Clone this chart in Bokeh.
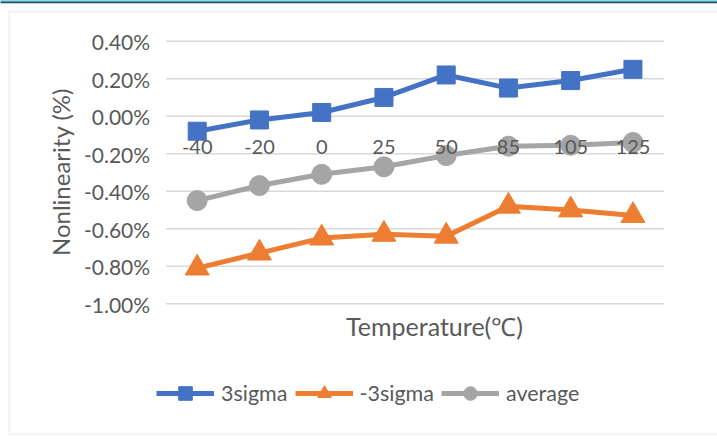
import math
from bokeh.plotting import figure
from bokeh.models import Range1d, Legend, LegendItem, Label, BoxAnnotation
from bokeh.embed import file_html
from bokeh.resources import INLINE

# ---- data ----
temperatures = ["-40", "-20", "0", "25", "50", "85", "105", "125"]
sigma_plus = [-0.08, -0.02, 0.02, 0.10, 0.22, 0.15, 0.19, 0.25]
sigma_minus = [-0.81, -0.73, -0.65, -0.63, -0.64, -0.48, -0.50, -0.53]
average = [-0.45, -0.37, -0.31, -0.27, -0.21, -0.16, -0.155, -0.14]
y_ticks = [-1.0, -0.8, -0.6, -0.4, -0.2, 0.0, 0.2, 0.4]
y_tick_labels = ["-1.00%", "-0.80%", "-0.60%", "-0.40%", "-0.20%", "0.00%", "0.20%", "0.40%"]

FONT = "Lato"
TXT = "#595959"
BLUE, ORANGE, GREY = "#4472C4", "#ED7D31", "#A5A5A5"

W, H = 717, 440
# layout: pixel geometry of the plot area inside the canvas
CAT_X0, CAT_STEP = 196.7, 62.25          # centre of first category, category spacing (px)
Y_TOP_PX, Y_BOT_PX = 40.7, 303.2          # pixel rows of the 0.40% and -1.00% grid lines
PX_PER_UNIT_Y = (Y_BOT_PX - Y_TOP_PX) / (y_ticks[-1] - y_ticks[0])

def px_x(px):
    return (px - CAT_X0) / CAT_STEP

def px_y(py):
    return y_ticks[-1] - (py - Y_TOP_PX) / PX_PER_UNIT_Y

xs = list(range(len(temperatures)))

p = figure(width=W, height=H, output_backend="svg", toolbar_location=None,
           title_location=None,
           x_range=Range1d(px_x(0), px_x(W)), y_range=Range1d(px_y(H), px_y(0)),
           x_axis_location=None, y_axis_location=None, min_border=0)
p.outline_line_color = None
p.background_fill_color = "white"
p.border_fill_color = "white"
p.xgrid.visible = False
p.ygrid.visible = False

# outer frame + top accent line
p.add_layout(BoxAnnotation(left=px_x(8.7), right=px_x(W + 20), top=px_y(11), bottom=px_y(433.5),
                           fill_alpha=0, line_color="#D9D9D9", line_width=2.5))
p.add_layout(BoxAnnotation(left=px_x(-5), right=px_x(W + 5), top=px_y(-1), bottom=px_y(1.4),
                           fill_color="#3AA6BC", fill_alpha=1, line_alpha=0))
p.add_layout(BoxAnnotation(left=px_x(-5), right=px_x(W + 5), top=px_y(1.4), bottom=px_y(2.8),
                           fill_color="#2B4C5C", fill_alpha=1, line_alpha=0))

# horizontal grid lines over the category band
p.segment(x0=-0.5, x1=len(temperatures) - 0.5, y0=y_ticks, y1=y_ticks,
          line_color="#D9D9D9", line_width=1.5)

# y tick labels
p.text(x=-0.5, y=y_ticks, text=y_tick_labels, x_offset=-16, y_offset=0.5,
       text_align="right", text_baseline="middle", text_font={"value": FONT},
       text_font_size="21px", text_color=TXT)

# series
l1 = p.line(xs, sigma_plus, line_color=BLUE, line_width=5)
m1 = p.scatter(xs, sigma_plus, marker="square", size=18, color=BLUE)
l2 = p.line(xs, sigma_minus, line_color=ORANGE, line_width=5)
m2 = p.scatter(xs, sigma_minus, marker="triangle", size=24, color=ORANGE)
l3 = p.line(xs, average, line_color=GREY, line_width=5)
m3 = p.scatter(xs, average, marker="circle", size=20, color=GREY)

# category labels on the axis crossing at 0
p.text(x=xs, y=0, text=temperatures, y_offset=30.5, text_align="center",
       text_baseline="middle", text_font={"value": FONT}, text_font_size="20px",
       text_color=TXT)

# axis titles
p.add_layout(Label(x=px_x(434), y=px_y(325), text="Temperature(\u2103)", text_align="center",
                   text_baseline="middle", text_font=FONT, text_font_size="25px",
                   text_color=TXT))
p.add_layout(Label(x=px_x(60), y=px_y(171.5), text="Nonlinearity (%)", angle=math.pi / 2,
                   text_align="center", text_baseline="middle", text_font=FONT,
                   text_font_size="24px", text_color=TXT))

legend = Legend(items=[LegendItem(label="3sigma", renderers=[l1, m1]),
                       LegendItem(label="-3sigma", renderers=[l2, m2]),
                       LegendItem(label="average", renderers=[l3, m3])],
                orientation="horizontal", location=(156, 30),
                glyph_width=58, glyph_height=34, label_height=34, spacing=7, label_standoff=7,
                padding=0, margin=0, border_line_color=None, background_fill_alpha=0,
                label_text_font=FONT, label_text_font_size="21.5px", label_text_color=TXT)
p.add_layout(legend)

open("out.html", "w").write(file_html(p, INLINE))
